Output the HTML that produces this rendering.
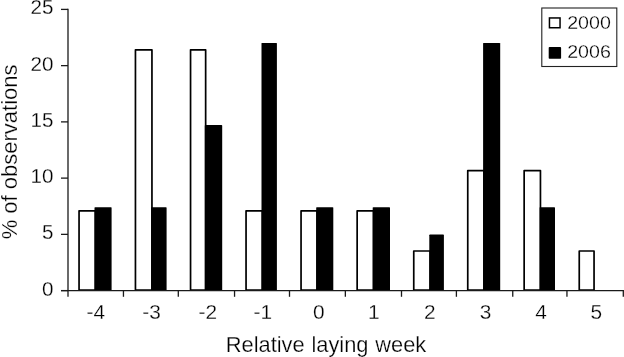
<!DOCTYPE html>
<html><head><meta charset="utf-8"><title>Relative laying week</title>
<style>html,body{margin:0;padding:0;background:#fff;}svg{display:block;}text{font-family:"Liberation Sans",Arial,sans-serif;fill:#000;stroke:#fff;stroke-width:0.25px;}</style>
</head><body>
<svg width="624" height="357" viewBox="0 0 624 357">
<rect x="0" y="0" width="624" height="357" fill="#fff"/>
<rect x="79.05" y="210.79" width="16.30" height="79.31" fill="#fff" stroke="#000" stroke-width="1.7" stroke-linejoin="round"/>
<rect x="94.50" y="207.17" width="17.10" height="83.83" rx="0.7" fill="#000"/>
<rect x="135.45" y="49.86" width="16.50" height="240.24" fill="#fff" stroke="#000" stroke-width="1.7" stroke-linejoin="round"/>
<rect x="151.10" y="207.17" width="15.50" height="83.83" rx="0.7" fill="#000"/>
<rect x="190.55" y="49.86" width="15.10" height="240.24" fill="#fff" stroke="#000" stroke-width="1.7" stroke-linejoin="round"/>
<rect x="204.80" y="125.05" width="17.40" height="165.95" rx="0.7" fill="#000"/>
<rect x="246.05" y="210.79" width="16.30" height="79.31" fill="#fff" stroke="#000" stroke-width="1.7" stroke-linejoin="round"/>
<rect x="261.50" y="42.92" width="15.40" height="248.08" rx="0.7" fill="#000"/>
<rect x="301.05" y="210.79" width="16.00" height="79.31" fill="#fff" stroke="#000" stroke-width="1.7" stroke-linejoin="round"/>
<rect x="316.20" y="207.17" width="17.10" height="83.83" rx="0.7" fill="#000"/>
<rect x="357.15" y="210.79" width="16.40" height="79.31" fill="#fff" stroke="#000" stroke-width="1.7" stroke-linejoin="round"/>
<rect x="372.70" y="207.17" width="17.30" height="83.83" rx="0.7" fill="#000"/>
<rect x="413.75" y="251.02" width="16.40" height="39.08" fill="#fff" stroke="#000" stroke-width="1.7" stroke-linejoin="round"/>
<rect x="429.30" y="234.55" width="14.60" height="56.45" rx="0.7" fill="#000"/>
<rect x="467.75" y="170.55" width="16.20" height="119.55" fill="#fff" stroke="#000" stroke-width="1.7" stroke-linejoin="round"/>
<rect x="483.10" y="42.92" width="17.10" height="248.08" rx="0.7" fill="#000"/>
<rect x="524.15" y="170.55" width="16.30" height="119.55" fill="#fff" stroke="#000" stroke-width="1.7" stroke-linejoin="round"/>
<rect x="539.60" y="207.17" width="15.40" height="83.83" rx="0.7" fill="#000"/>
<rect x="579.25" y="251.02" width="14.80" height="39.08" fill="#fff" stroke="#000" stroke-width="1.7" stroke-linejoin="round"/>
<line x1="68.0" y1="8.75" x2="68.0" y2="296.8" stroke="#1a1a1a" stroke-width="1.3"/>
<line x1="61" y1="290.6" x2="623.95" y2="290.6" stroke="#1a1a1a" stroke-width="1.3"/>
<line x1="61" y1="290.60" x2="68.0" y2="290.60" stroke="#1a1a1a" stroke-width="1.3"/>
<text transform="translate(53.4,295.50) scale(1.03,1)" font-size="20" text-anchor="end">0</text>
<line x1="61" y1="234.36" x2="68.0" y2="234.36" stroke="#1a1a1a" stroke-width="1.3"/>
<text transform="translate(53.4,239.26) scale(1.03,1)" font-size="20" text-anchor="end">5</text>
<line x1="61" y1="178.12" x2="68.0" y2="178.12" stroke="#1a1a1a" stroke-width="1.3"/>
<text transform="translate(53.4,183.02) scale(1.03,1)" font-size="20" text-anchor="end">10</text>
<line x1="61" y1="121.88" x2="68.0" y2="121.88" stroke="#1a1a1a" stroke-width="1.3"/>
<text transform="translate(53.4,126.78) scale(1.03,1)" font-size="20" text-anchor="end">15</text>
<line x1="61" y1="65.64" x2="68.0" y2="65.64" stroke="#1a1a1a" stroke-width="1.3"/>
<text transform="translate(53.4,70.54) scale(1.03,1)" font-size="20" text-anchor="end">20</text>
<line x1="61" y1="9.40" x2="68.0" y2="9.40" stroke="#1a1a1a" stroke-width="1.3"/>
<text transform="translate(53.4,14.30) scale(1.03,1)" font-size="20" text-anchor="end">25</text>
<line x1="123.45" y1="290.6" x2="123.45" y2="296.8" stroke="#1a1a1a" stroke-width="1.3"/>
<line x1="178.30" y1="290.6" x2="178.30" y2="296.8" stroke="#1a1a1a" stroke-width="1.3"/>
<line x1="234.55" y1="290.6" x2="234.55" y2="296.8" stroke="#1a1a1a" stroke-width="1.3"/>
<line x1="289.50" y1="290.6" x2="289.50" y2="296.8" stroke="#1a1a1a" stroke-width="1.3"/>
<line x1="345.35" y1="290.6" x2="345.35" y2="296.8" stroke="#1a1a1a" stroke-width="1.3"/>
<line x1="401.50" y1="290.6" x2="401.50" y2="296.8" stroke="#1a1a1a" stroke-width="1.3"/>
<line x1="456.40" y1="290.6" x2="456.40" y2="296.8" stroke="#1a1a1a" stroke-width="1.3"/>
<line x1="512.75" y1="290.6" x2="512.75" y2="296.8" stroke="#1a1a1a" stroke-width="1.3"/>
<line x1="566.95" y1="290.6" x2="566.95" y2="296.8" stroke="#1a1a1a" stroke-width="1.3"/>
<line x1="623.30" y1="290.6" x2="623.30" y2="296.8" stroke="#1a1a1a" stroke-width="1.3"/>
<text transform="translate(95.72,318.9) scale(1.06,1)" font-size="19.7" text-anchor="middle">-4</text>
<text transform="translate(151.56,318.9) scale(1.06,1)" font-size="19.7" text-anchor="middle">-3</text>
<text transform="translate(207.80,318.9) scale(1.06,1)" font-size="19.7" text-anchor="middle">-2</text>
<text transform="translate(262.84,318.9) scale(1.06,1)" font-size="19.7" text-anchor="middle">-1</text>
<text transform="translate(318.78,318.9) scale(1.06,1)" font-size="19.7" text-anchor="middle">0</text>
<text transform="translate(373.92,318.9) scale(1.06,1)" font-size="19.7" text-anchor="middle">1</text>
<text transform="translate(429.76,318.9) scale(1.06,1)" font-size="19.7" text-anchor="middle">2</text>
<text transform="translate(485.60,318.9) scale(1.06,1)" font-size="19.7" text-anchor="middle">3</text>
<text transform="translate(541.04,318.9) scale(1.06,1)" font-size="19.7" text-anchor="middle">4</text>
<text transform="translate(596.38,318.9) scale(1.06,1)" font-size="19.7" text-anchor="middle">5</text>
<text x="326.0" y="352.1" font-size="21.85" word-spacing="0.7" text-anchor="middle">Relative laying week</text>
<text transform="translate(17.1,151.9) rotate(-90)" font-size="22" text-anchor="middle">% of observations</text>
<rect x="541.8" y="8.0" width="75.0" height="58.5" fill="#fff" stroke="#222" stroke-width="1.1"/>
<rect x="549.45" y="17.95" width="10.6" height="9.8" fill="#fff" stroke="#000" stroke-width="1.5"/>
<rect x="548.7" y="47.1" width="12.4" height="11.6" rx="0.8" fill="#000"/>
<text transform="translate(567.2,28.55) scale(1.05,1)" font-size="18.7">2000</text>
<text transform="translate(567.2,58.3) scale(1.05,1)" font-size="18.7">2006</text>
</svg>
</body></html>
